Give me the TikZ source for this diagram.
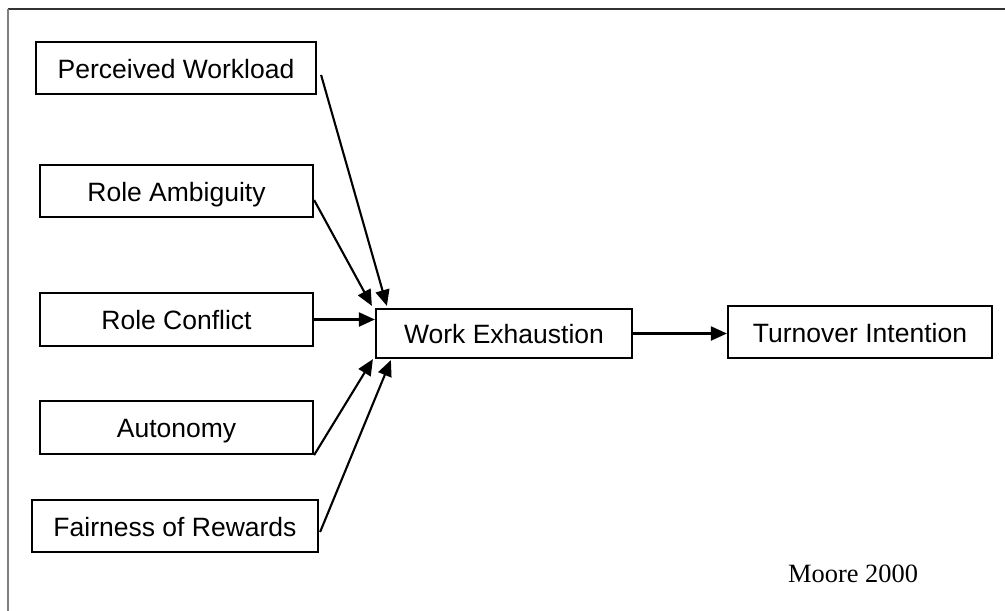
\documentclass[tikz,border=0pt]{standalone}
\usepackage{fontspec}
\setmainfont{Liberation Sans}
\newfontfamily\refserif{Liberation Serif}
\usetikzlibrary{arrows.meta}
\begin{document}
\begin{tikzpicture}[x=1pt,y=-1pt,
  box/.style={draw,line width=2.2pt,inner sep=0pt,minimum height=52pt,
    text height=20pt,text depth=0pt,font=\fontsize{26.5}{30}\selectfont},
  conn/.style={line width=2.1pt,-{Triangle[length=16pt,width=14pt]}}]
\useasboundingbox (0,0) rectangle (1005,611);
\draw[line width=1.8pt,black!80] (8,9) -- (1005,9);
\draw[line width=1.8pt,black!50] (8,9) -- (8,611);
\node[box,minimum width=280pt] (pw) at (176,68) {Perceived Workload};
\node[box,minimum width=273pt] (ra) at (176.5,191) {Role Ambiguity};
\node[box,minimum width=273pt,minimum height=53pt] (rc) at (176.5,319.5) {Role Conflict};
\node[box,minimum width=273pt,minimum height=53pt] (au) at (176.5,427.5) {Autonomy};
\node[box,minimum width=286pt] (fr) at (175,526) {Fairness of Rewards};
\node[box,minimum width=256pt,minimum height=49pt] (we) at (504,333.5) {Work Exhaustion};
\node[box,minimum width=264pt] (to) at (860,332) {Turnover Intention};
\node[anchor=base west,inner sep=0pt,font=\refserif\fontsize{26.4}{30}\selectfont] (src) at (788,582) {Moore 2000};
\draw[conn] ([shift={(4,7)}]pw.east) -- ([shift={(12,-2)}]we.north west);
\draw[conn] ([shift={(0,9)}]ra.east) -- ([shift={(-3,-2)}]we.north west);
\draw[conn] (rc.east) -- (rc.east -| we.west);
\draw[conn] (au.south east) -- ([shift={(-2,0)}]we.south west);
\draw[conn] ([shift={(1,6)}]fr.east) -- ([shift={(16,1)}]we.south west);
\draw[conn] (we.east) -- (we.east -| to.west);
\end{tikzpicture}
\end{document}
